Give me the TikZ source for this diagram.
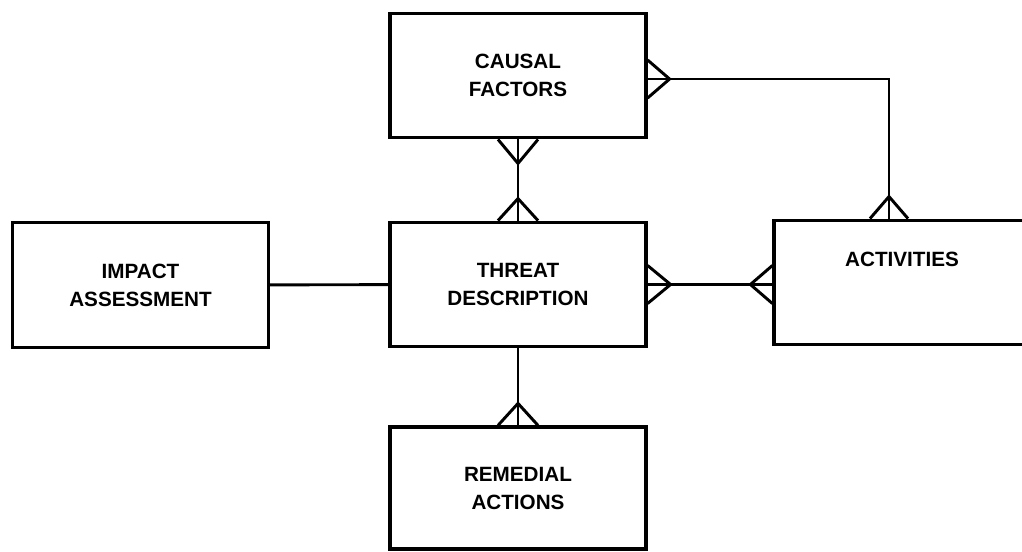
\documentclass[tikz,border=0pt]{standalone}
\usepackage{fontspec}
\setmainfont{Liberation Sans}
\usetikzlibrary{calc}

\tikzstyle{entity}=[draw, line width=2.4pt, align=center, fill=white,
  font=\bfseries\fontsize{15.5}{21}\selectfont,
  minimum width=192pt, minimum height=93.5pt]
\tikzstyle{link}=[line width=2.2pt]

\begin{document}
\begin{tikzpicture}[x=0.75pt, y=-0.75pt]
      \clip (0,0) rectangle (1022,551);
      \fill[white] (0,0) rectangle (1022,551);

      \node[entity] (causal) at (518, 75.5) {CAUSAL\\FACTORS};
      \node[entity] (threat) at (518, 284.5) {THREAT\\DESCRIPTION};
      \node[entity] (impact) at (140.5, 285) {IMPACT\\ASSESSMENT};
      \node[entity] (activities) at (902, 282.5) {ACTIVITIES\\[14pt]};
      \node[entity, minimum height=91.5pt] (remedial) at (518, 488) {REMEDIAL\\ACTIONS};
      \coordinate (bend) at (889, 79);

      \draw[link] (causal) -- (threat);
      \draw[link] (impact) -- (threat);
      \draw[link] (threat.east) -- (threat.east -| activities.west);
      \draw[link] (threat) -- (remedial);
      \draw[link] (causal.east |- bend) -- (bend) -- (activities.north -| bend);

      % crow's feet
      \draw[link] ($(causal.south)+(-20,0)$) -- ($(causal.south)+(0,24)$) -- ($(causal.south)+(20,0)$);
      \draw[link] ($(threat.north)+(-20,0)$) -- ($(threat.north)+(0,-22)$) -- ($(threat.north)+(20,0)$);
      \draw[link] ($(causal.east |- bend)+(0,-19)$) -- ($(causal.east |- bend)+(22,0)$) -- ($(causal.east |- bend)+(0,19)$);
      \draw[link] ($(activities.north -| bend)+(-19,0)$) -- ($(activities.north -| bend)+(0,-22)$) -- ($(activities.north -| bend)+(19,0)$);
      \draw[link] ($(threat.east)+(0,-19)$) -- ($(threat.east)+(23,0)$) -- ($(threat.east)+(0,19)$);
      \draw[link] ($(threat.east -| activities.west)+(0,-19)$) -- ($(threat.east -| activities.west)+(-22,0)$) -- ($(threat.east -| activities.west)+(0,19)$);
      \draw[link] ($(remedial.north)+(-20,0)$) -- ($(remedial.north)+(0,-22)$) -- ($(remedial.north)+(20,0)$);
    \end{tikzpicture}
\end{document}
